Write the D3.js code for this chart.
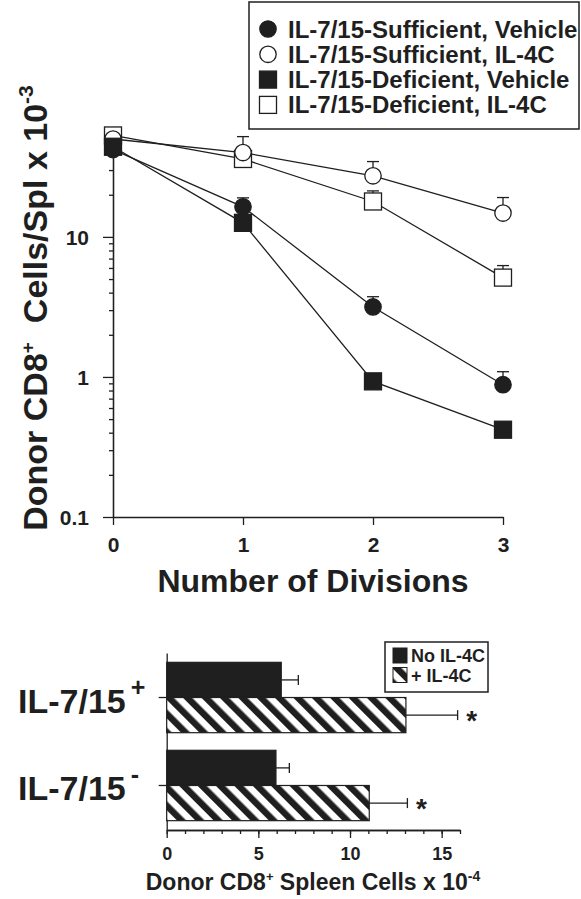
<!DOCTYPE html>
<html>
<head>
<meta charset="utf-8">
<script src="https://cdn.jsdelivr.net/npm/d3@7"></script>
<style>
body { margin: 0; background: #fff; }
text { font-family: "Liberation Sans", Arial, sans-serif; font-weight: bold; fill: #1f1f1f; }
</style>
</head>
<body>
<svg id="fig" width="581" height="899"></svg>
<script>
// ---- top panel: cells per spleen by number of divisions ----
var divisions = [0, 1, 2, 3];
var sufVehicle   = [42, 16.4, 3.16, 0.88];
var sufVehicleHi = [null, 19, 3.74, 1.09];
var sufIL4C      = [50, 40, 27.3, 14.8];
var sufIL4CHi    = [null, 52, 34.5, 19.1];
var defVehicle   = [44, 12.6, 0.93, 0.42];
var defVehicleHi = [null, null, null, null];
var defIL4C      = [53, 36, 17.9, 5.12];
var defIL4CHi    = [null, null, 21.3, 6.24];
var seriesNames = ["IL-7/15-Sufficient, Vehicle", "IL-7/15-Sufficient, IL-4C",
                   "IL-7/15-Deficient, Vehicle", "IL-7/15-Deficient, IL-4C"];
var yMajorTicks = [0.1, 1, 10];
var yMinorTicks = [0.2, 0.3, 0.4, 0.5, 0.6, 0.7, 0.8, 0.9, 2, 3, 4, 5, 6, 7, 8, 9, 20, 30, 40];

// ---- bottom panel: spleen cells ----
var groups = ["+", "-"];
var noIL4C     = [6.25, 5.96];
var noIL4CHi   = [7.18, 6.69];
var plusIL4C   = [13.05, 11.05];
var plusIL4CHi = [15.87, 13.13];
var barSeries = ["No IL-4C", "+ IL-4C"];
var xMajorBottom = [0, 5, 10, 15];

var ink = "#1f1f1f";
var svg = d3.select("#fig");
svg.append("rect").attr("width", 581).attr("height", 899).attr("fill", "#fff");

var defs = svg.append("defs");
var pat = defs.append("pattern")
    .attr("id", "hatch")
    .attr("patternUnits", "userSpaceOnUse")
    .attr("width", 13).attr("height", 13)
    .attr("patternTransform", "rotate(-45)");
pat.append("rect").attr("width", 13).attr("height", 13).attr("fill", "#fff");
pat.append("rect").attr("width", 6.5).attr("height", 13).attr("fill", ink);

// ================= TOP PANEL =================
var x = d3.scaleLinear().domain([0, 3]).range([113, 503]);
var y = d3.scaleLog().domain([0.1, 50]).range([517, 139]);

var topG = svg.append("g");

function styleAxis(g) {
    g.selectAll("path, line").attr("stroke", ink).attr("stroke-width", 1.3);
    g.selectAll("text").attr("fill", ink).attr("font-family", null);
}

topG.append("g")
    .attr("transform", "translate(113,0)")
    .call(d3.axisLeft(y).tickValues(yMinorTicks).tickSize(4).tickFormat("").tickSizeOuter(0))
    .call(styleAxis);
topG.append("g")
    .attr("transform", "translate(113,0)")
    .call(d3.axisLeft(y).tickValues(yMajorTicks).tickSize(10).tickPadding(14).tickSizeOuter(0)
        .tickFormat(function(d){ return d < 1 ? "0.1" : String(d); }))
    .call(styleAxis)
    .selectAll("text").attr("font-size", 21).attr("dy", "0.36em");

topG.append("g")
    .attr("transform", "translate(0,517)")
    .call(d3.axisBottom(x).tickValues(divisions).tickSize(8).tickPadding(12).tickSizeOuter(0)
        .tickFormat(d3.format("d")))
    .call(styleAxis)
    .selectAll("text").attr("font-size", 21);

topG.append("text")
    .attr("x", 313).attr("y", 592)
    .attr("text-anchor", "middle")
    .attr("font-size", 32)
    .text("Number of Divisions");

var ylab = topG.append("text")
    .attr("transform", "translate(47,308) rotate(-90)")
    .attr("text-anchor", "middle")
    .attr("font-size", 34);
ylab.append("tspan").text("Donor CD8");
ylab.append("tspan").attr("font-size", 19).attr("dy", -13).text("+");
ylab.append("tspan").attr("dy", 13).text("\u00a0 Cells/Spl x 10");
ylab.append("tspan").attr("font-size", 21).attr("dy", -14).text("-3");

var series = [
    { name: seriesNames[3], vals: defIL4C, hi: defIL4CHi, shape: "square", fill: "#fff" },
    { name: seriesNames[1], vals: sufIL4C, hi: sufIL4CHi, shape: "circle", fill: "#fff" },
    { name: seriesNames[2], vals: defVehicle, hi: defVehicleHi, shape: "square", fill: ink },
    { name: seriesNames[0], vals: sufVehicle, hi: sufVehicleHi, shape: "circle", fill: ink }
];

var line = d3.line().x(function(d){ return x(d.x); }).y(function(d){ return y(d.v); });

function marker(g, shape, fill, cx, cy) {
    if (shape === "circle") {
        g.append("circle").attr("cx", cx).attr("cy", cy).attr("r", 8.2)
            .attr("fill", fill).attr("stroke", ink).attr("stroke-width", 1.3);
    } else {
        g.append("rect").attr("x", cx - 8.5).attr("y", cy - 8.5).attr("width", 17).attr("height", 17)
            .attr("fill", fill).attr("stroke", ink).attr("stroke-width", 1.3);
    }
}

series.forEach(function(s) {
    var pts = divisions.map(function(d, i){ return { x: d, v: s.vals[i], hi: s.hi[i] }; });
    topG.append("path").datum(pts).attr("d", line)
        .attr("fill", "none").attr("stroke", ink).attr("stroke-width", 1.3);
});
series.forEach(function(s) {
    var g = topG.append("g");
    divisions.forEach(function(d, i) {
        if (s.hi[i] != null) {
            g.append("line").attr("x1", x(d)).attr("x2", x(d))
                .attr("y1", y(s.vals[i])).attr("y2", y(s.hi[i]))
                .attr("stroke", ink).attr("stroke-width", 1.3);
            g.append("line").attr("x1", x(d) - 6).attr("x2", x(d) + 6)
                .attr("y1", y(s.hi[i])).attr("y2", y(s.hi[i]))
                .attr("stroke", ink).attr("stroke-width", 1.3);
        }
    });
});
series.forEach(function(s) {
    var g = topG.append("g");
    divisions.forEach(function(d, i) { marker(g, s.shape, s.fill, x(d), y(s.vals[i])); });
});

// top legend
var leg = topG.append("g");
leg.append("rect").attr("x", 249).attr("y", 2).attr("width", 330).attr("height", 127)
    .attr("fill", "#fff").attr("stroke", ink).attr("stroke-width", 1.5);
var legOrder = [series[3], series[1], series[2], series[0]];
legOrder.forEach(function(s, i) {
    var cy = 29 + i * 25.3;
    marker(leg, s.shape, s.fill, 268, cy);
    leg.append("text").attr("x", 288).attr("y", cy + 8.5).attr("font-size", 24).text(s.name);
});

// ================= BOTTOM PANEL =================
var bx = d3.scaleLinear().domain([0, 16]).range([166.7, 460]);
var gy = d3.scaleBand().domain(groups).range([653, 830]).paddingInner(0.2).paddingOuter(0.106);
var sy = d3.scaleBand().domain(barSeries).range([0, gy.bandwidth()]);

var bot = svg.append("g");

bot.append("g")
    .attr("transform", "translate(0,830)")
    .call(d3.axisBottom(bx).tickValues(d3.range(0, 17)).tickSize(4).tickFormat("").tickSizeOuter(0))
    .call(styleAxis);
bot.append("g")
    .attr("transform", "translate(0,830)")
    .call(d3.axisBottom(bx).tickValues(xMajorBottom).tickSize(8).tickPadding(9).tickSizeOuter(0))
    .call(styleAxis)
    .selectAll("text").attr("font-size", 18);

bot.append("g")
    .attr("transform", "translate(166.7,0)")
    .call(d3.axisLeft(gy).tickSize(8).tickFormat("").tickSizeOuter(0))
    .call(styleAxis);

groups.forEach(function(gname, i) {
    var cy = gy(gname) + gy.bandwidth() / 2;
    var t = bot.append("text").attr("x", 18).attr("y", cy + 15).attr("font-size", 34);
    t.append("tspan").text("IL-7/15");
    t.append("tspan").attr("dx", 5).attr("dy", -17).attr("font-size", 25).text(gname);

    var rows = [
        { key: barSeries[0], v: noIL4C[i], hi: noIL4CHi[i], fill: ink, star: false },
        { key: barSeries[1], v: plusIL4C[i], hi: plusIL4CHi[i], fill: "url(#hatch)", star: true }
    ];
    rows.forEach(function(r) {
        var by = gy(gname) + sy(r.key);
        var mid = by + sy.bandwidth() / 2;
        bot.append("line").attr("x1", bx(r.v)).attr("x2", bx(r.hi)).attr("y1", mid).attr("y2", mid)
            .attr("stroke", ink).attr("stroke-width", 1.3);
        bot.append("line").attr("x1", bx(r.hi)).attr("x2", bx(r.hi)).attr("y1", mid - 5).attr("y2", mid + 5)
            .attr("stroke", ink).attr("stroke-width", 1.3);
        bot.append("rect").attr("x", bx(0)).attr("y", by)
            .attr("width", bx(r.v) - bx(0)).attr("height", sy.bandwidth())
            .attr("fill", r.fill).attr("stroke", ink).attr("stroke-width", 1.2);
        if (r.star) {
            bot.append("text").attr("x", bx(r.hi) + 14).attr("y", mid + 15)
                .attr("text-anchor", "middle").attr("font-size", 28).text("*");
        }
    });
});

var xlab = bot.append("text").attr("x", 313).attr("y", 890)
    .attr("text-anchor", "middle").attr("font-size", 23);
xlab.append("tspan").text("Donor CD8");
xlab.append("tspan").attr("font-size", 13).attr("dy", -9).text("+");
xlab.append("tspan").attr("dy", 9).text(" Spleen Cells x 10");
xlab.append("tspan").attr("font-size", 14).attr("dy", -9).text("-4");

// bottom legend
var bleg = bot.append("g");
bleg.append("rect").attr("x", 385).attr("y", 642).attr("width", 103).attr("height", 50)
    .attr("fill", "#fff").attr("stroke", ink).attr("stroke-width", 1.5);
barSeries.forEach(function(name, i) {
    var ty = 648 + i * 19.5;
    bleg.append("rect").attr("x", 393).attr("y", ty).attr("width", 14).attr("height", 15)
        .attr("fill", i === 0 ? ink : "url(#hatch)").attr("stroke", ink).attr("stroke-width", 1);
    bleg.append("text").attr("x", 411).attr("y", ty + 14).attr("font-size", 18).text(name);
});
</script>
</body>
</html>
